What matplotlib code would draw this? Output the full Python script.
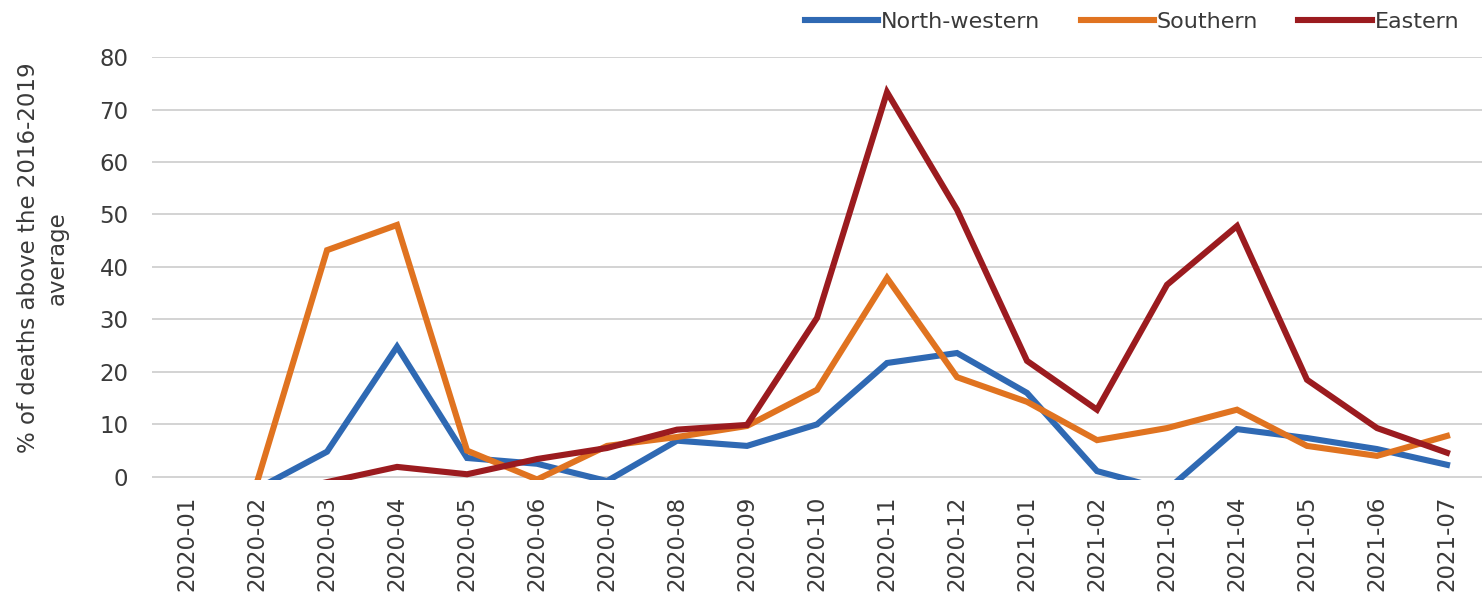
import matplotlib.pyplot as plt
import numpy as np

# Monthly excess deaths by region, % above the 2016-2019 average
months = ['2020-01', '2020-02', '2020-03', '2020-04', '2020-05', '2020-06',
          '2020-07', '2020-08', '2020-09', '2020-10', '2020-11', '2020-12',
          '2021-01', '2021-02', '2021-03', '2021-04', '2021-05', '2021-06',
          '2021-07']
north_western = [-5, -2.3, 4.8, 24.8, 3.6, 2.5, -0.8, 6.9, 5.9, 10.0, 21.7,
                 23.6, 16.0, 1.1, -2.5, 9.1, 7.4, 5.3, 2.3]
southern = [-6, -1.0, 43.2, 48.0, 5.0, -0.5, 5.9, 7.6, 9.7, 16.6, 37.9,
            19.0, 14.3, 7.0, 9.3, 12.8, 5.9, 4.0, 7.8]
eastern = [-6, -4, -1.0, 1.9, 0.5, 3.4, 5.5, 9.0, 9.9, 30.3, 73.3, 50.9,
           22.1, 12.8, 36.6, 47.8, 18.5, 9.3, 4.6]
yticks = [0, 10, 20, 30, 40, 50, 60, 70, 80]

series = [('North-western', north_western, '#2F69B3'),
          ('Southern', southern, '#E07320'),
          ('Eastern', eastern, '#9B1B1F')]

fig = plt.figure(figsize=(14.82, 5.96), dpi=100)
ax = fig.add_axes([0.1026, 0.1946, 0.8974, 0.7097])

x = np.arange(len(months))
for name, vals, col in series:
    ax.plot(x, vals, color=col, lw=4.4, label=name, solid_joinstyle='miter')

ax.set_xlim(-0.5, len(months) - 0.5)
ax.set_ylim(-0.6, 80)
ax.set_yticks(yticks)
ax.set_xticks(x)
ax.set_xticklabels(months, rotation=90)
ax.yaxis.grid(True, color='#D0D0D0', lw=1.3)
ax.set_axisbelow(True)
for s in ax.spines.values():
    s.set_visible(False)
ax.tick_params(axis='both', length=0, labelsize=16.5, colors='#3A3A3A')
ax.tick_params(axis='y', pad=17)
ax.tick_params(axis='x', pad=11)

ax.set_ylabel('% of deaths above the 2016-2019\naverage', fontsize=16.5,
              color='#3A3A3A', multialignment='center', linespacing=1.35)
ax.yaxis.set_label_coords(-0.0625, 0.525)

leg = fig.legend(loc='upper right', bbox_to_anchor=(0.998, 1.013), ncol=3,
                 frameon=False, handlelength=3.3, handletextpad=0.13,
                 columnspacing=1.8, prop={'size': 16})
for t in leg.get_texts():
    t.set_color('#3A3A3A')

fig.savefig('out.png', dpi=100)
